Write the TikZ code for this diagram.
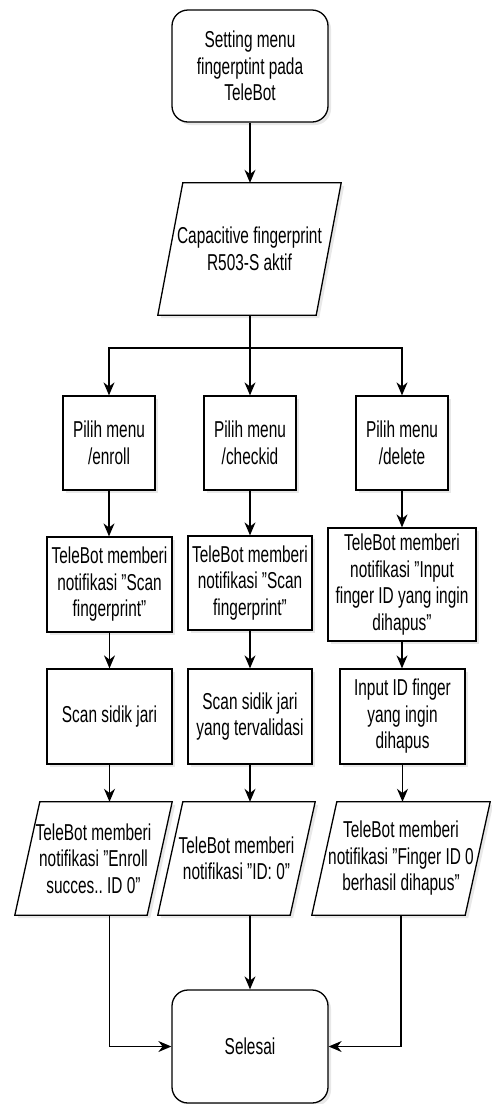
\documentclass[tikz,border=0pt]{standalone}
\usepackage{fontspec}
\setmainfont{Liberation Sans}[FakeStretch=0.67]
\usetikzlibrary{arrows.meta,shadows,backgrounds}
\newcommand{\dq}{\symbol{34}}
\frenchspacing

\begin{document}
\begin{tikzpicture}[x=1pt,y=-1pt,
    font=\fontsize{23}{26.5}\selectfont,
    softshadow/.style={drop shadow={shadow xshift=3pt,shadow yshift=-3pt,opacity=0.18}},
    terminal/.style={draw,line width=1.3pt,rounded corners=16pt,fill=white,softshadow,
        align=center,minimum width=156pt,minimum height=112pt},
    process/.style={draw,line width=1.3pt,fill=white,softshadow,align=center,inner sep=2pt},
    iotext/.style={align=center,inner sep=0pt},
    flow/.style={line width=1.3pt,-{Stealth[length=13pt,width=11pt]}}]
            \useasboundingbox (0,0) rectangle (491,1104);
            % start and input
            \node[terminal] (start) at (250,66) {Setting menu\\fingerptint pada\\TeleBot};
            \node[iotext,minimum width=158pt,minimum height=132pt] (input) at (249.5,249) {Capacitive fingerprint\\R503-S aktif};
            \coordinate (split) at (250,348);
            % menu choices
            \node[process,minimum width=92pt,minimum height=94pt] (m1) at (109,443) {Pilih menu\\/enroll};
            \node[process,minimum width=92pt,minimum height=94pt] (m2) at (250,443) {Pilih menu\\/checkid};
            \node[process,minimum width=92pt,minimum height=94pt] (m3) at (402,443) {Pilih menu\\/delete};
            % notifications
            \node[process,minimum width=125pt,minimum height=95pt] (n1) at (109.5,584.5) {TeleBot memberi\\notifikasi \dq Scan\\fingerprint\dq};
            \node[process,minimum width=124pt,minimum height=94pt] (n2) at (250,583) {TeleBot memberi\\notifikasi \dq Scan\\fingerprint\dq};
            \node[process,minimum width=148pt,minimum height=113pt] (n3) at (402,584.5) {TeleBot memberi\\notifikasi \dq Input\\finger ID yang ingin\\dihapus\dq};
            % scanning
            \node[process,minimum width=125pt,minimum height=95pt] (s1) at (109.5,716.5) {Scan sidik jari};
            \node[process,minimum width=124pt,minimum height=95pt] (s2) at (250,716.5) {Scan sidik jari\\yang tervalidasi};
            \node[process,minimum width=125pt,minimum height=95pt] (s3) at (402.5,716.5) {Input ID finger\\yang ingin\\dihapus};
            % results
            \node[iotext,minimum width=132pt,minimum height=113pt] (r1) at (93.5,858.5) {TeleBot memberi\\notifikasi \dq Enroll\\succes.. ID 0\dq};
            \node[iotext,minimum width=132pt,minimum height=113pt] (r2) at (236.5,858.5) {TeleBot memberi\\notifikasi \dq ID: 0\dq};
            \node[iotext,minimum width=153pt,minimum height=113pt] (r3) at (401,858.5) {TeleBot memberi\\notifikasi \dq Finger ID 0\\berhasil dihapus\dq};
            \node[terminal,minimum height=113pt] (finish) at (250,1046.5) {Selesai};
            % slanted outlines
            \begin{scope}[on background layer]
            \foreach \n in {input,r1,r2,r3}
                \draw[line width=1.3pt,fill=white,softshadow] ([xshift=12.5pt]\n.north west) -- ([xshift=12.5pt]\n.north east)
                    -- ([xshift=-12.5pt]\n.south east) -- ([xshift=-12.5pt]\n.south west) -- cycle;
            \end{scope}
            % connectors
            \draw[flow] (start.south) -- (start.south |- input.north);
            \draw[flow] (input.south -| split) -- (split) -| (m1.north);
            \draw[flow] (split) -| (m3.north);
            \draw[flow] (split) -- (m2.north);
            \foreach \c in {1,2,3}{
                \draw[flow] (m\c.south) -- (m\c.south |- n\c.north);
                \draw[flow] (n\c.south) -- (n\c.south |- s\c.north);
                \draw[flow] (s\c.south) -- (s\c.south |- r\c.north);
            }
            \draw[flow] (s1.south |- r1.south) |- (finish.west);
            \draw[flow] (r2.south -| finish.north) -- (finish.north);
            \draw[flow] (r3.south) |- (finish.east);
        \end{tikzpicture}
\end{document}
